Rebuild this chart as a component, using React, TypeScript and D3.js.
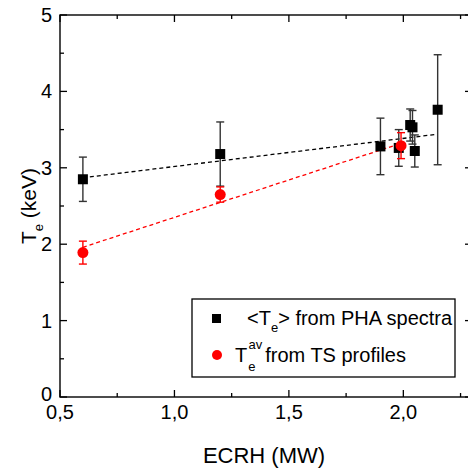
import React from 'react';
import * as d3 from 'd3';

// ECRH power (MW) vs electron temperature (keV)
const phaX = [0.6, 1.2, 1.9, 1.98, 2.03, 2.04, 2.05, 2.15];
const phaY = [2.85, 3.18, 3.28, 3.26, 3.56, 3.53, 3.22, 3.76];
const phaErr = [0.29, 0.42, 0.37, 0.24, 0.21, 0.22, 0.21, 0.72];

const tsX = [0.6, 1.2, 1.99];
const tsY = [1.89, 2.65, 3.29];
const tsErr = [0.15, 0.1, 0.17];

// dashed linear fits, endpoints in data units
const phaFit = [[0.6, 2.87], [2.15, 3.44]];
const tsFit = [[0.6, 1.96], [2.0, 3.33]];

const xMajor = [0.5, 1.0, 1.5, 2.0];
const xMinor = [0.75, 1.25, 1.75, 2.25];
const yMajor = [0, 1, 2, 3, 4, 5];
const yMinor = [0.5, 1.5, 2.5, 3.5, 4.5];

const W = 468, H = 472;
const left = 60, right = 472, top = 15, bottom = 397;

const locale = d3.formatLocale({ decimal: ',', thousands: '.', grouping: [3], currency: ['', ''] });
const fmtX = locale.format('.1f');

const App = () => {
    const x = d3.scaleLinear().domain([0.5, 2.3]).range([left, right]);
    const y = d3.scaleLinear().domain([0, 5]).range([bottom, top]);
    const line = d3.line<number[]>().x(d => x(d[0])).y(d => y(d[1]));

    const font = 'Liberation Sans, Arial, sans-serif';
    const errColor = '#333';

    const errBar = (cx: number, cy: number, e: number, color: string, key: string) => {
        const px = x(cx);
        return <g key={key} stroke={color} strokeWidth={1.4}>
            <line x1={px} x2={px} y1={y(cy - e)} y2={y(cy + e)} />
            <line x1={px - 4} x2={px + 4} y1={y(cy - e)} y2={y(cy - e)} />
            <line x1={px - 4} x2={px + 4} y1={y(cy + e)} y2={y(cy + e)} />
        </g>;
    };

    return (
        <svg width={W} height={H} style={{ position: 'absolute', left: 0, top: 0 }} fontFamily={font}>
            <rect width={W} height={H} fill="#fff" />

            {/* frame */}
            <rect x={left} y={top} width={right - left} height={bottom - top} fill="none" stroke="#000" strokeWidth={1.4} />

            {/* x ticks, bottom and top */}
            {xMajor.map(t => <g key={'xM' + t} stroke="#000" strokeWidth={1.3}>
                <line x1={x(t)} x2={x(t)} y1={bottom} y2={bottom - 7} />
                <line x1={x(t)} x2={x(t)} y1={top} y2={top + 7} />
            </g>)}
            {xMinor.map(t => <g key={'xm' + t} stroke="#000" strokeWidth={1.3}>
                <line x1={x(t)} x2={x(t)} y1={bottom} y2={bottom - 4} />
                <line x1={x(t)} x2={x(t)} y1={top} y2={top + 4} />
            </g>)}
            {xMajor.map(t => <text key={'xl' + t} x={x(t)} y={419} fontSize={20} textAnchor="middle">{fmtX(t)}</text>)}

            {/* y ticks, left and right */}
            {yMajor.map(t => <g key={'yM' + t} stroke="#000" strokeWidth={1.3}>
                <line x1={left} x2={left + 7} y1={y(t)} y2={y(t)} />
                <line x1={right} x2={right - 7} y1={y(t)} y2={y(t)} />
            </g>)}
            {yMinor.map(t => <g key={'ym' + t} stroke="#000" strokeWidth={1.3}>
                <line x1={left} x2={left + 4} y1={y(t)} y2={y(t)} />
                <line x1={right} x2={right - 4} y1={y(t)} y2={y(t)} />
            </g>)}
            {yMajor.map(t => <text key={'yl' + t} x={52} y={y(t)} dy={t === 0 ? '0.2em' : '0.35em'} fontSize={20} textAnchor="end">{t}</text>)}

            {/* axis titles */}
            <text x={264} y={463} fontSize={22} textAnchor="middle">ECRH (MW)</text>
            <text transform={`translate(36,${(top + bottom) / 2}) rotate(-90)`} fontSize={21} textAnchor="middle">
                T<tspan fontSize={13} dy={7}>e</tspan><tspan dy={-7}> (keV)</tspan>
            </text>

            {/* fits */}
            <path d={line(phaFit) || ''} fill="none" stroke="#000" strokeWidth={1.3} strokeDasharray="4,3" />
            <path d={line(tsFit) || ''} fill="none" stroke="#ff0000" strokeWidth={1.3} strokeDasharray="4,3" />

            {/* PHA points */}
            {phaX.map((v, i) => errBar(v, phaY[i], phaErr[i], errColor, 'pe' + i))}
            {phaX.map((v, i) => <rect key={'p' + i} x={x(v) - 5} y={y(phaY[i]) - 5} width={10} height={10} fill="#000" />)}

            {/* TS points */}
            {tsX.map((v, i) => errBar(v, tsY[i], tsErr[i], '#ff0000', 'te' + i))}
            {tsX.map((v, i) => <circle key={'t' + i} cx={x(v)} cy={y(tsY[i])} r={5.5} fill="#ff0000" />)}

            {/* legend */}
            <rect x={192} y={299} width={263} height={78} fill="#fff" stroke="#000" strokeWidth={1.3} />
            <rect x={212} y={314} width={9} height={9} fill="#000" />
            <text x={247} y={325} fontSize={20}>
                {'<T'}<tspan fontSize={13} dy={7}>e</tspan><tspan dy={-7}>{'> from PHA spectra'}</tspan>
            </text>
            <circle cx={217} cy={355} r={5} fill="#ff0000" />
            <text x={235} y={362} fontSize={20}>
                T<tspan fontSize={13} dy={9} dx={1}>e</tspan><tspan fontSize={13} dy={-22} dx={-7}>av</tspan><tspan dy={13} dx={3}>from TS profiles</tspan>
            </text>
        </svg>
    );
};

export default App;
